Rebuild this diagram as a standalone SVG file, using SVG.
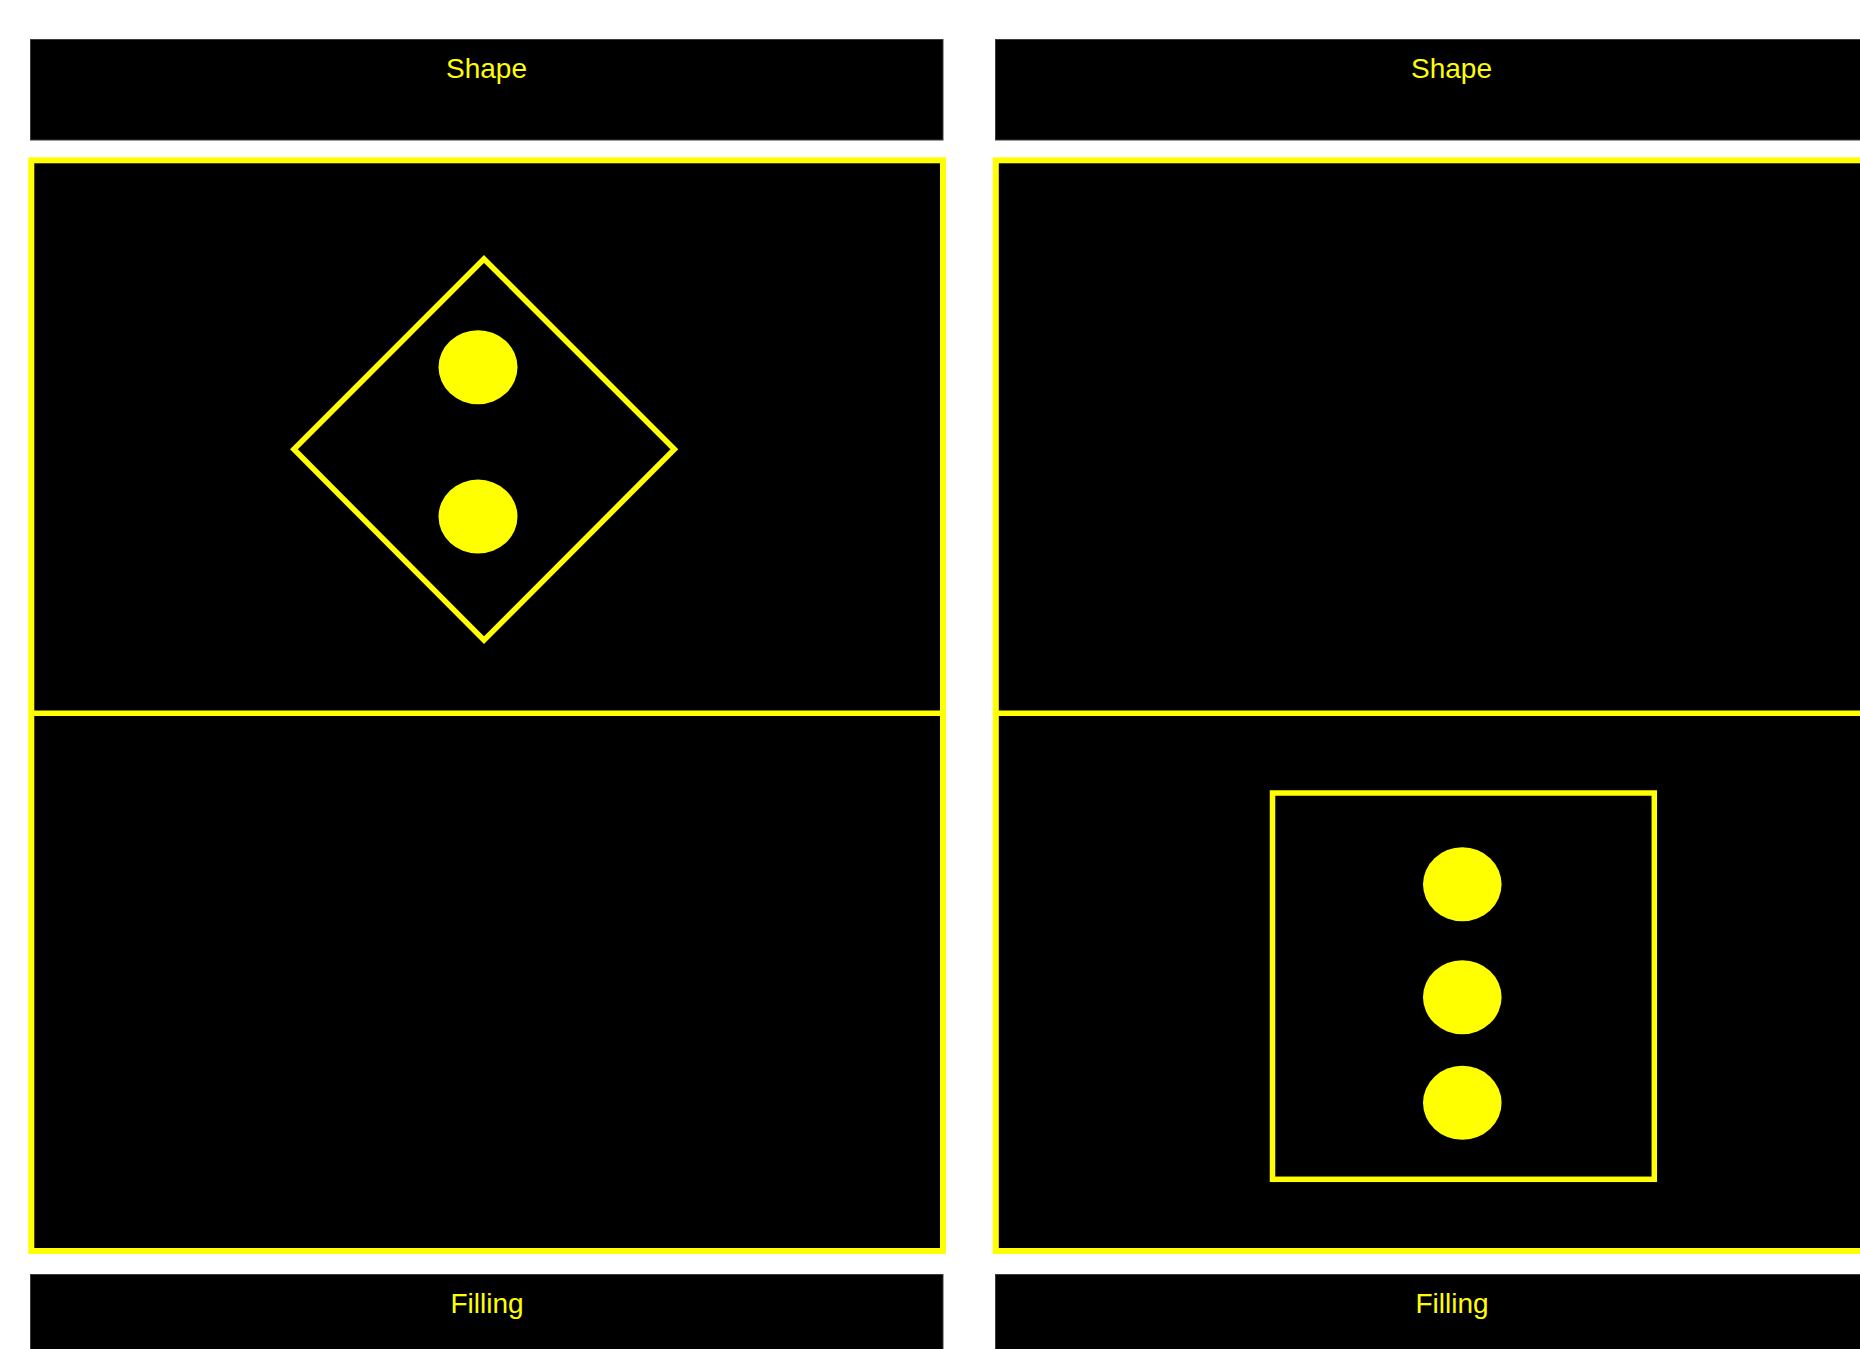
<svg xmlns="http://www.w3.org/2000/svg" width="1860" height="1349" viewBox="0 0 1860 1349">
  <style>
    .bar { fill: #000000; stroke: #3c3c3c; stroke-width: 1; }
    .panel { fill: #000000; stroke: #ffff00; stroke-width: 6; }
    .divider { stroke: #ffff00; stroke-width: 5.5; }
    .shape { fill: none; stroke: #ffff00; stroke-width: 5.5; }
    .dot { fill: #ffff00; }
    .label { fill: #ffff00; font-family: "Liberation Sans", Arial, sans-serif; font-size: 28px; text-anchor: middle; }
  </style>
  <rect width="1860" height="1349" fill="#ffffff"/>

  <g id="left-column">
    <g id="left-header">
      <rect class="bar" x="30.5" y="39.5" width="912.5" height="100.5"/>
      <text class="label" x="486.5" y="78">Shape</text>
    </g>
    <g id="left-panel">
      <rect class="panel" x="31.3" y="160.3" width="911.7" height="1090.7"/>
      <line class="divider" x1="31.3" y1="713.3" x2="943" y2="713.3"/>
    </g>
    <g id="left-diamond">
      <polygon class="shape" points="484,259 674.4,449.3 484,640.2 293.9,449.3"/>
      <ellipse class="dot" cx="478" cy="367.2" rx="39.5" ry="37"/>
      <ellipse class="dot" cx="478" cy="516.6" rx="39.5" ry="37"/>
    </g>
    <g id="left-footer">
      <rect class="bar" x="30.5" y="1274.5" width="912.5" height="101"/>
      <text class="label" x="487" y="1313">Filling</text>
    </g>
  </g>

  <g id="right-column">
    <g id="right-header">
      <rect class="bar" x="995.5" y="39.5" width="912.5" height="100.5"/>
      <text class="label" x="1451.5" y="78">Shape</text>
    </g>
    <g id="right-panel">
      <rect class="panel" x="995.8" y="160.3" width="911.7" height="1090.7"/>
      <line class="divider" x1="995.8" y1="713.3" x2="1908" y2="713.3"/>
    </g>
    <g id="right-square">
      <rect class="shape" x="1272.5" y="793" width="381.8" height="386.3"/>
      <ellipse class="dot" cx="1462.3" cy="884.3" rx="39.3" ry="37"/>
      <ellipse class="dot" cx="1462.3" cy="997.2" rx="39.3" ry="37"/>
      <ellipse class="dot" cx="1462.3" cy="1102.8" rx="39.3" ry="37"/>
    </g>
    <g id="right-footer">
      <rect class="bar" x="995.5" y="1274.5" width="912.5" height="101"/>
      <text class="label" x="1452" y="1313">Filling</text>
    </g>
  </g>

  <g id="connectors"/>
</svg>
